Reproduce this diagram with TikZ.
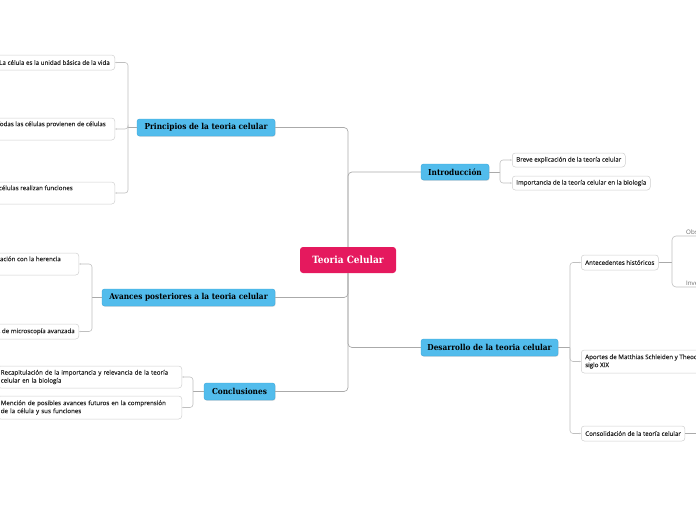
\documentclass[tikz,border=0pt]{standalone}
\usepackage{fontspec}
\setmainfont{Open Sans}
\newfontfamily\leaffont{Open Sans}[FakeBold=0.25]
\newfontfamily\slabfont{DejaVu Serif Condensed}
\usetikzlibrary{arrows.meta,shadows}
\definecolor{hub}{HTML}{E5195E}
\definecolor{topic}{HTML}{52BCEC}
\definecolor{topicline}{HTML}{3AA6DB}
\definecolor{conn}{HTML}{AAAAAA}
\definecolor{leafline}{HTML}{CFCFCF}
\definecolor{leaftext}{HTML}{262626}
\begin{document}
\begin{tikzpicture}[x=1pt,y=-1pt,
  hubbox/.style={fill=hub, rounded corners=3pt, text=white, font=\slabfont\bfseries\fontsize{10}{12}\selectfont,
    minimum width=96pt, minimum height=26pt, inner sep=0pt},
  topicbox/.style={fill=topic, draw=topicline, line width=0.4pt, rounded corners=2.5pt, text=black,
    font=\slabfont\bfseries\fontsize{8.2}{9}\selectfont, minimum height=17pt, inner sep=0pt,
    drop shadow={shadow xshift=0.6pt, shadow yshift=-0.8pt, opacity=0.25}},
  leafbox/.style={fill=white, draw=leafline, line width=0.5pt, rounded corners=3pt, text=leaftext,
    font=\leaffont\fontsize{6.2}{8}\selectfont, align=left, inner xsep=4pt, inner ysep=0pt},
  plainleaf/.style={text=leaftext!70, font=\fontsize{6.2}{8}\selectfont, inner sep=1pt},
  link/.style={draw=conn, line width=0.7pt, rounded corners=4pt},
  leaflink/.style={draw=leafline!80!gray, line width=0.6pt, rounded corners=3pt,
    -{Latex[length=1.6pt,width=1.6pt]}},
]
\useasboundingbox (0,0) rectangle (696,520);
\clip (0,0) rectangle (696,520);

% central
\node[hubbox] (hub) at (348,260) {Teoria Celular};

% main topics
\node[topicbox, minimum width=138pt] (princ) at (206,127.5) {Principios de la teoria celular};
\node[topicbox, minimum width=173pt] (avan) at (188.5,297.5) {Avances posteriores a la teoria celular};
\node[topicbox, minimum width=71pt] (concl) at (239.5,391.5) {Conclusiones};
\node[topicbox, minimum width=68pt, minimum height=16pt] (intro) at (455,172) {Introducción};
\node[topicbox, minimum width=137pt] (desa) at (489.5,347.5) {Desarrollo de la teoria celular};

% trunk connectors
\draw[link] (hub.north) |- (princ.east);
\draw[link] (hub.north) |- (intro.west);
\draw[link] (hub.south) |- (avan.east);
\draw[link] (hub.south) |- (desa.west);
\draw[link] (hub.south) |- (concl.east);

% Principios leaves
\node[leafbox, anchor=east, minimum height=15pt] (p1) at (115,62.5) {La célula es la unidad básica de la vida\hspace*{1pt}};
\node[leafbox, anchor=east, minimum height=22pt] (p2) at (115,129) {Todas las células provienen de células\hspace*{5pt}\\\strut};
\node[leafbox, anchor=east, minimum height=22pt] (p3) at (115,193) {Las células realizan funciones\hspace*{38pt}\\\strut};
\coordinate (pb) at (128,127.5);
\draw[link] (princ.west) -- (pb);
\foreach \c in {p1,p2,p3} \draw[leaflink] (pb) |- (\c.east);

% Avances leaves
\node[leafbox, anchor=east, minimum height=22pt] (a1) at (79,264) {relación con la herencia\hspace*{14pt}\\\strut};
\node[leafbox, anchor=east, minimum height=15pt] (a2) at (79,331.5) {técnicas de microscopía avanzada};
\coordinate (ab) at (92,297.5);
\draw[link] (avan.west) -- (ab);
\foreach \c in {a1,a2} \draw[leaflink] (ab) |- (\c.east);

% Conclusiones leaves
\node[leafbox, anchor=east, minimum height=22pt, text width=178pt, inner xsep=3pt] (c1) at (182,377)
  {Recapitulación de la importancia y relevancia de la teoría\\celular en la biología};
\node[leafbox, anchor=east, minimum height=23pt, text width=178pt, inner xsep=3pt] (c2) at (182,407.5)
  {Mención de posibles avances futuros en la comprensión\\de la célula y sus funciones};
\coordinate (cb) at (193,391.5);
\draw[link] (concl.west) -- (cb);
\foreach \c in {c1,c2} \draw[leaflink] (cb) |- (\c.east);

% Introduccion leaves
\node[leafbox, anchor=west, minimum height=14pt] (i1) at (512,160) {Breve explicación de la teoría celular};
\node[leafbox, anchor=west, minimum height=14pt] (i2) at (512,183) {Importancia de la teoría celular en la biología};
\coordinate (ib) at (500,172);
\draw[link] (intro.east) -- (ib);
\foreach \c in {i1,i2} \draw[leaflink] (ib) |- (\c.west);

% Desarrollo leaves
\node[leafbox, anchor=west, minimum height=15pt] (ant) at (581,262.5) {Antecedentes históricos};
\node[leafbox, anchor=west, minimum height=23pt] (apo) at (581,361.5)
  {Aportes de Matthias Schleiden y Theodor Schwann en el\\siglo XIX};
\node[leafbox, anchor=west, minimum height=15pt] (cons) at (581,433.5) {Consolidación de la teoría celular};
\coordinate (db) at (570,347.5);
\draw[link] (desa.east) -- (db);
\foreach \c in {ant,apo,cons} \draw[leaflink] (db) |- (\c.west);

% Antecedentes sub-leaves
\node[plainleaf, anchor=south west] (ob) at (685,236) {Observaciones};
\node[plainleaf, anchor=south west] (inv) at (685,287) {Invención};
\coordinate (antb) at (672,262.5);
\draw[link] (ant.east) -- (antb);
\draw[leafline!80!gray, line width=0.6pt, rounded corners=4pt] (antb) |- (ob.south east);
\draw[leafline!80!gray, line width=0.6pt, rounded corners=4pt] (antb) |- (inv.south east);

% Consolidacion continuation
\coordinate (consb) at (710,433.5);
\draw[link] (cons.east) -- (consb);
\end{tikzpicture}
\end{document}
